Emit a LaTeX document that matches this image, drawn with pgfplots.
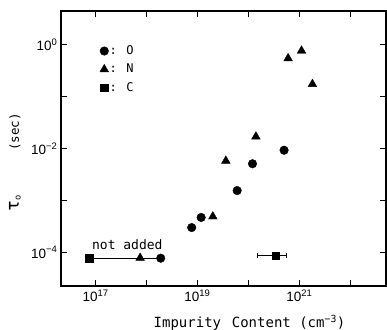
\documentclass[border=0pt]{standalone}
\usepackage{pgfplots}
\pgfplotsset{compat=1.18}
\usepackage{fontspec}
\setmainfont{DejaVu Sans}
\newfontfamily\monof{DejaVu Sans Mono}
\newfontfamily\tickf{Liberation Sans}
\begin{document}
\begin{tikzpicture}
\begin{axis}[
  xmode=log, ymode=log,
  scale only axis, width=325bp, height=275bp,
  xmin=2.1e16, xmax=5e22, ymin=2.24e-5, ymax=4.5,
  xtick={1e17,1e18,1e19,1e20,1e21,1e22},
  xticklabels={10\textsuperscript{17},,10\textsuperscript{19},,10\textsuperscript{21},},
  ytick={1e-4,1e-3,1e-2,1e-1,1},
  yticklabels={10\textsuperscript{−4},,10\textsuperscript{−2},,10\textsuperscript{0}},
  xminorticks=false, yminorticks=false,
  tick align=inside, major tick length=6bp,
  tick style={black, line width=0.9pt},
  axis line style={line width=1.1pt},
  ticklabel style={font=\tickf\fontsize{13.5bp}{16bp}\selectfont},
  xtick pos=both, ytick pos=both,
  xlabel={Impurity\, Content (cm\textsuperscript{−3})},
  every axis x label/.style={at={(axis description cs:0.58,-0.135)}, anchor=center,
    font=\monof\fontsize{14bp}{16bp}\selectfont},
  ylabel={{\fontsize{18bp}{18bp}\selectfont τ}\textsubscript{o}\hspace{44bp}(sec)},
  every axis y label/.style={at={(axis description cs:-0.142,0.45)}, anchor=center, rotate=90,
    font=\monof\fontsize{12.5bp}{15bp}\selectfont},
  legend style={draw=none, fill=none, at={(0.11,0.885)}, anchor=north west,
    font=\monof\fontsize{12bp}{14bp}\selectfont, row sep=6bp, nodes={inner sep=1bp}},
  legend cell align=left,
]
\addplot[black, line width=0.8pt, no marks, forget plot] coordinates {(7.6e16,7.7e-5) (1.9e18,7.7e-5)};
\addplot[only marks, mark=*, mark size=4.3bp, black] coordinates {
 (1.9e18,7.7e-5) (7.7e18,3.0e-4) (1.18e19,4.7e-4) (6.0e19,1.55e-3) (1.2e20,5.1e-3) (5.0e20,9.3e-3)};
\addlegendentry{: O}
\addplot[only marks, mark=triangle*, mark size=5bp, black] coordinates {
 (7.5e17,7.8e-5) (2.0e19,4.9e-4) (3.6e19,5.8e-3) (1.4e20,1.7e-2) (6.0e20,0.55) (1.1e21,0.77) (1.8e21,0.175)};
\addlegendentry{: N}
\addplot[only marks, mark=square*, mark size=3.8bp, black,
  error bars/.cd, x dir=both, x explicit, error bar style={line width=0.8pt}, error mark options={rotate=90, mark size=2.5bp}] coordinates {
 (7.6e16,7.7e-5) (3.4e20,8.6e-5) += (2.0e20,0) -= (1.9e20,0)};
\addlegendentry{: C}
\node[font=\monof\fontsize{13bp}{15bp}\selectfont] at (axis cs:4.2e17,1.4e-4) {not added};
\end{axis}
\pgfresetboundingbox
\path ([xshift=-61bp,yshift=-44bp]current axis.south west) rectangle ([xshift=1bp,yshift=11bp]current axis.north east);
\end{tikzpicture}
\end{document}
